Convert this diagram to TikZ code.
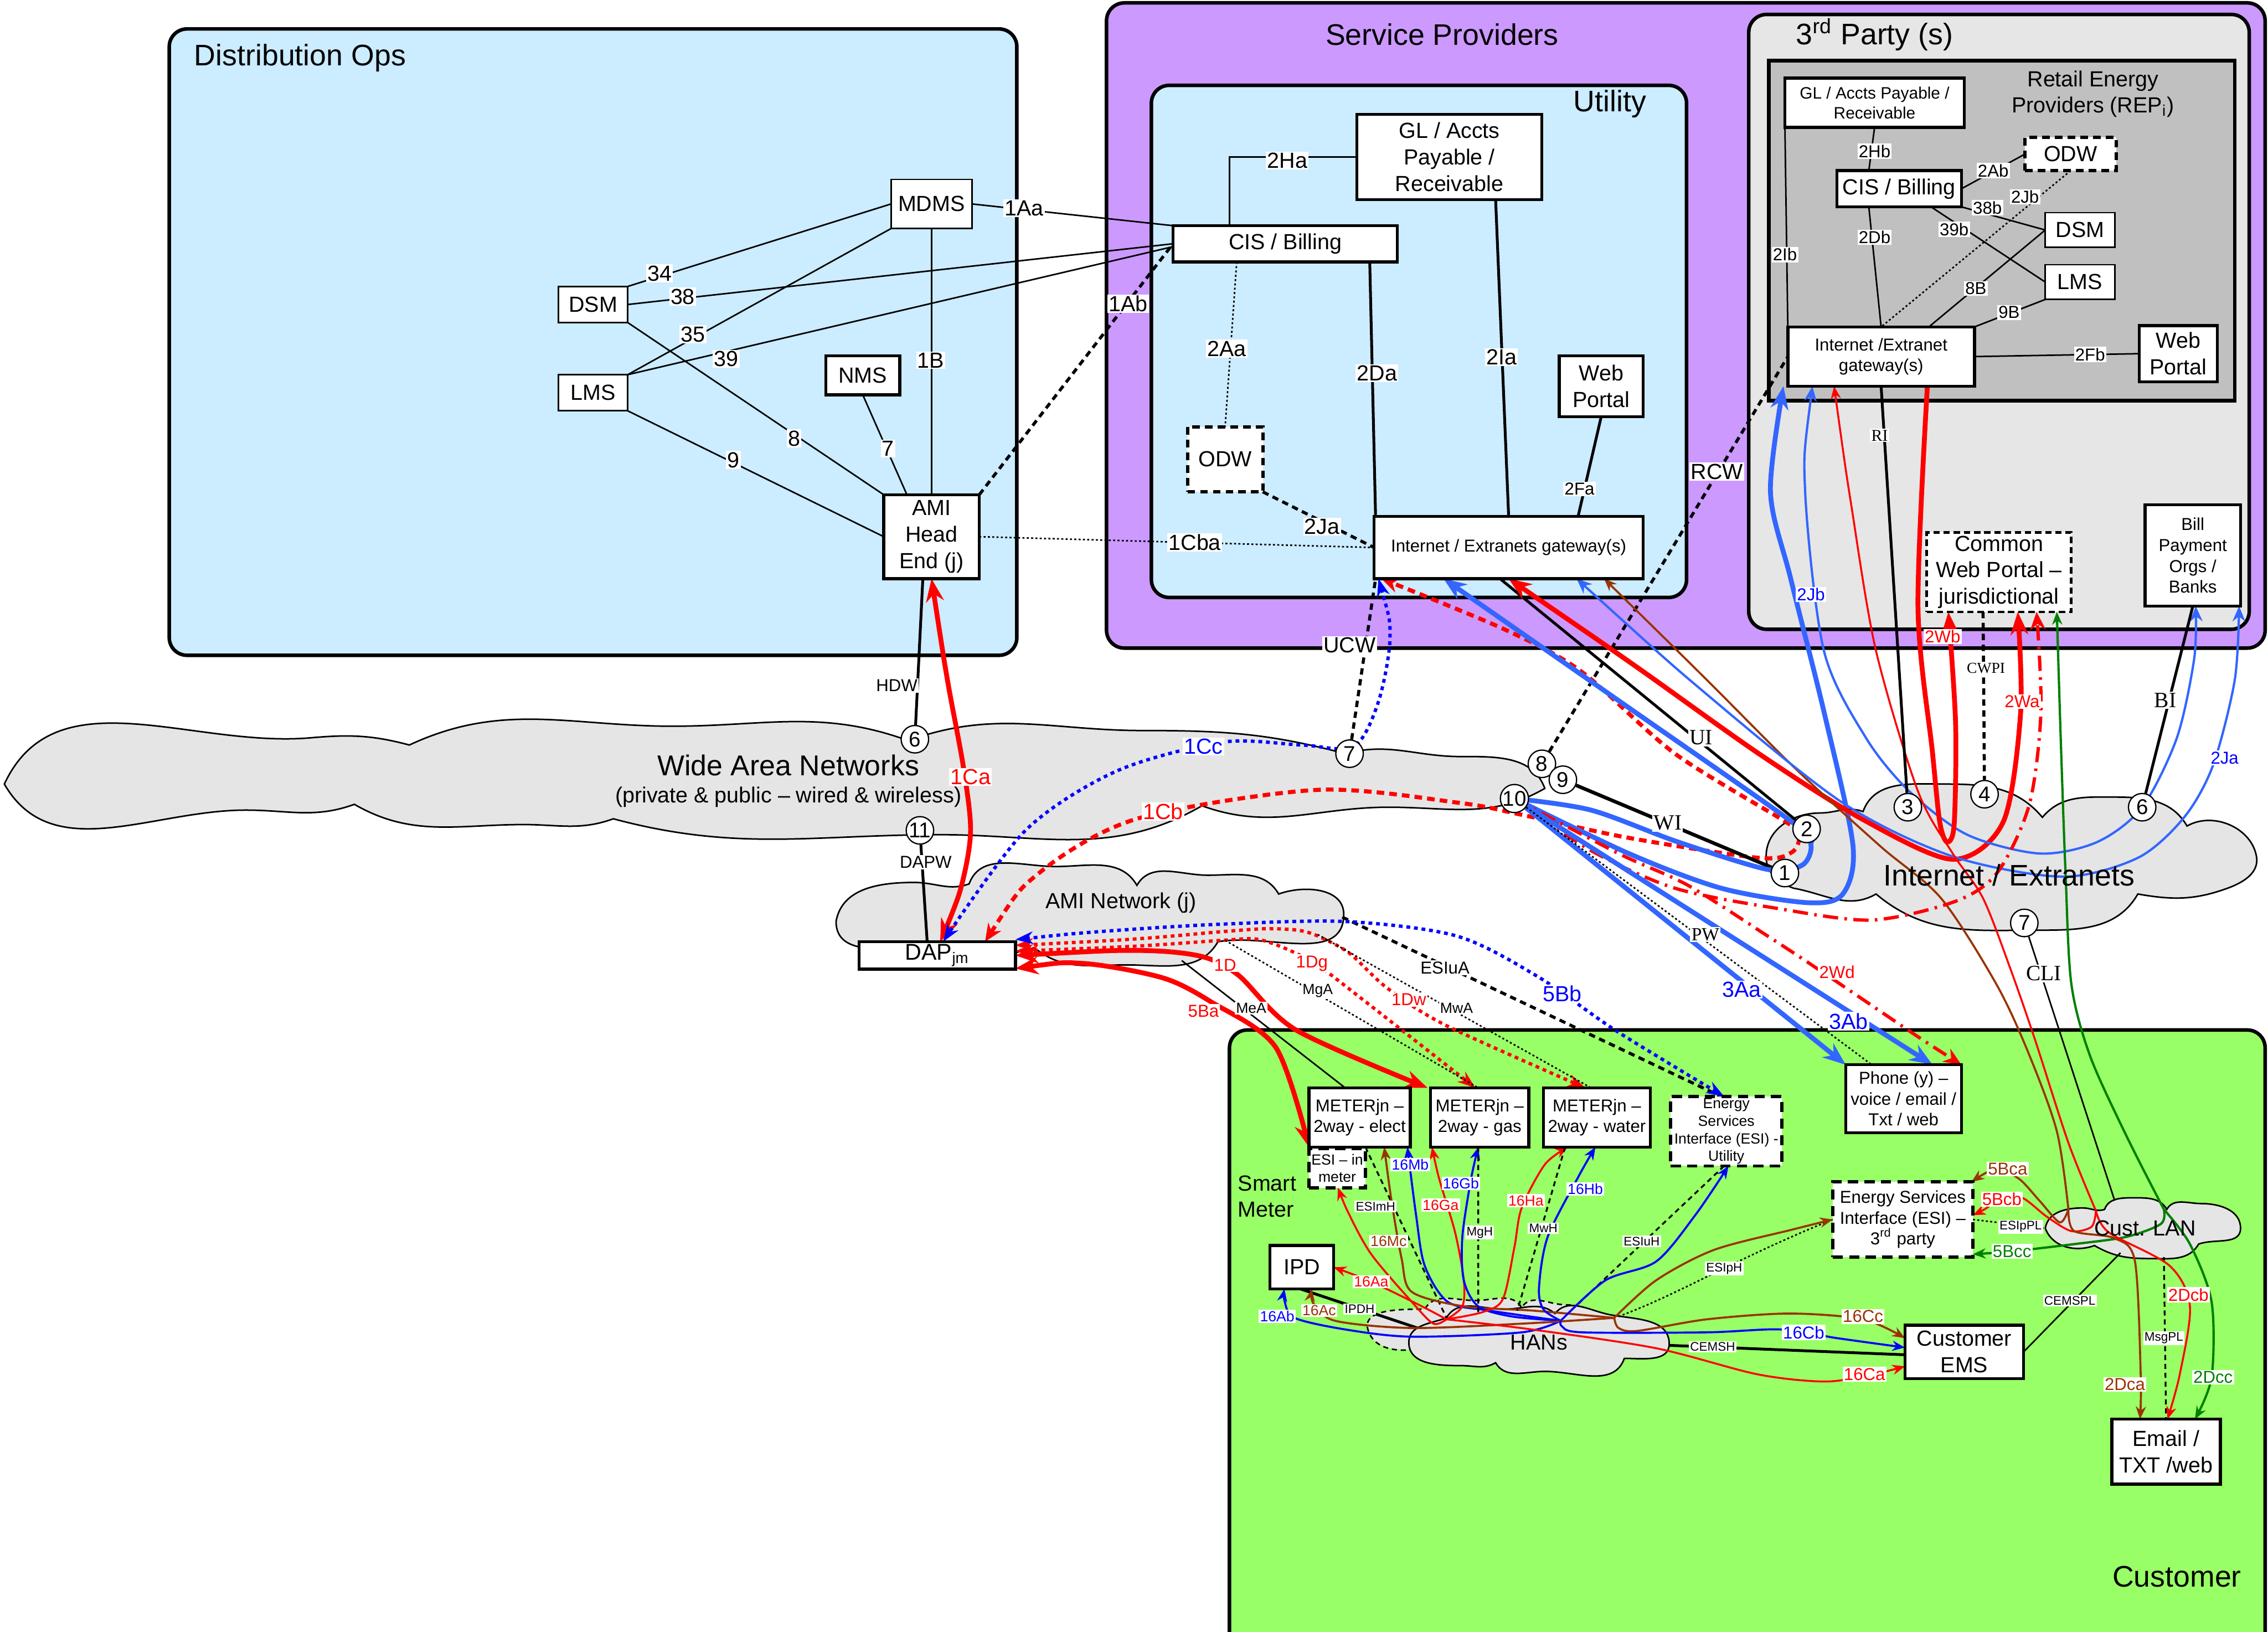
\documentclass[tikz,border=0pt]{standalone}
\usepackage{fontspec}
\setmainfont{Liberation Sans}
\newfontfamily\serf{Liberation Serif}
\usetikzlibrary{arrows.meta}
\definecolor{lblue}{HTML}{CCECFF}
\definecolor{purp}{HTML}{CC99FF}
\definecolor{lgray}{HTML}{E6E6E6}
\definecolor{mgray}{HTML}{C0C0C0}
\definecolor{cgreen}{HTML}{99FF66}
\definecolor{cloudg}{HTML}{E5E5E5}
\definecolor{rblue}{HTML}{3366FF}
\definecolor{pblue}{HTML}{0000FF}
\definecolor{brn}{HTML}{993300}
\definecolor{grn}{HTML}{008000}
\pgfdeclarelayer{back}\pgfdeclarelayer{mid}\pgfsetlayers{back,mid,main}
\newcommand\bx[7]{\node[#6,minimum width={(#4-#2)*0.02cm},minimum height={(#5-#3)*0.02cm}] (#1) at ({(#2+#4)/2},{(#3+#5)/2}) {#7};}
\tikzset{
 ftitle/.style={font=\fontsize{11.7}{14}\selectfont,inner sep=0pt},
 fbig/.style={font=\fontsize{8.6}{10.4}\selectfont},
 fmed/.style={font=\fontsize{6.8}{8.2}\selectfont},
 fsm/.style={font=\fontsize{5.8}{6.9}\selectfont},
 fxs/.style={font=\fontsize{4.9}{5.9}\selectfont},
 bxs/.style={draw,fill=white,line width=0.6pt,inner sep=0pt,outer sep=0pt,align=center,fbig},
 bxt/.style={bxs,line width=1.2pt},
 bxd/.style={bxs,line width=1.3pt,dash pattern=on 4pt off 2.5pt},
 region/.style={draw,line width=1.4pt,rounded corners=7pt,inner sep=0pt},
 lab/.style={fill=white,inner sep=0.5pt,fbig},
 lb/.style={lab,fmed},
 lsix/.style={lab,fsm},
 ls/.style={lab,fxs},
 sl/.style={fill=white,inner sep=0.5pt,font=\serf\fontsize{8.6}{9}\selectfont},
 sls/.style={fill=white,inner sep=0.5pt,font=\serf\fontsize{6.5}{7}\selectfont},
 circ/.style={circle,draw,fill=white,inner sep=0pt,minimum size=0.38cm,line width=0.5pt,font=\fontsize{8.4}{9}\selectfont},
 cloudst/.style={fill=cloudg,draw,line width=0.6pt},
 ln/.style={line width=0.6pt},
 tk/.style={line width=1.1pt},
 kdot/.style={line width=0.6pt,dash pattern=on 0.8pt off 0.9pt},
 kdash/.style={line width=1.2pt,dash pattern=on 2.5pt off 1.8pt},
 kdashs/.style={line width=0.7pt,dash pattern=on 2pt off 1.5pt},
 redT/.style={draw=red,line width=1.9pt,>={Stealth[length=9pt,width=7pt]}},
 bluT/.style={draw=rblue,line width=1.9pt,>={Stealth[length=9pt,width=7pt]}},
 redt/.style={draw=red,line width=0.75pt,>={Stealth[length=5pt,width=4pt]}},
 blut/.style={draw=rblue,line width=0.9pt,>={Stealth[length=6pt,width=5pt]}},
 pbl/.style={draw=pblue,line width=0.8pt,>={Stealth[length=5pt,width=4pt]}},
 brnl/.style={draw=brn,line width=0.8pt,>={Stealth[length=5pt,width=4pt]}},
 grnl/.style={draw=grn,line width=0.9pt,>={Stealth[length=5pt,width=4pt]}},
 rdash/.style={draw=red,line width=1.6pt,dash pattern=on 3pt off 2pt,>={Stealth[length=7pt,width=6pt]}},
 rdot/.style={draw=red,line width=1.3pt,dash pattern=on 1.5pt off 1.5pt,>={Stealth[length=7pt,width=5pt]}},
 bdot/.style={draw=pblue,line width=1.3pt,dash pattern=on 1.5pt off 1.5pt,>={Stealth[length=7pt,width=5pt]}},
 rdd/.style={draw=red,line width=1.3pt,dash pattern=on 6pt off 2.5pt on 1pt off 2.5pt,>={Stealth[length=7pt,width=6pt]}},
}
\begin{document}
\begin{tikzpicture}[x=0.02cm,y=-0.02cm]
\useasboundingbox (0,0) rectangle (1568,1128);

% ---------- background: regions and clouds ----------
\begin{pgfonlayer}{back}
\bx{distops}{117}{20}{703}{453}{region,fill=lblue}{}
\bx{sprov}{765}{2}{1566}{448}{region,fill=purp}{}
\bx{util}{796}{59}{1166}{413}{region,fill=lblue}{}
\bx{third}{1209}{10}{1555}{435}{region,fill=lgray}{}
\bx{rep}{1223}{42}{1545}{277}{draw,fill=mgray,line width=1.5pt}{}
\bx{cust}{850}{712}{1566}{1140}{region,fill=cgreen}{}
% Wide Area Networks cloud
\draw[cloudst] (3,542) to[out=65,in=185] (215,510) to[out=5,in=165] (283,515)
  to[out=25,in=180] (465,502) to[out=0,in=160] (628,512) to[out=20,in=180] (790,505)
  to[out=0,in=165] (930,521) to[out=15,in=180] (1010,523) to[out=0,in=110] (1068,545)
  to[out=-150,in=0] (960,558) to[out=180,in=-20] (831,557) to[out=-150,in=0] (650,577)
  to[out=180,in=-15] (424,566) to[out=-160,in=0] (362,570) to[out=180,in=-30] (245,556)
  to[out=-160,in=0] (170,560) to[out=180,in=-60] (3,542) -- cycle;
% AMI Network cloud
\draw[cloudst] (578,637) to[out=80,in=180] (632,610) to[out=0,in=200] (670,611)
  to[out=70,in=180] (730,599) to[out=0,in=120] (786,612)
  to[out=60,in=180] (835,605) to[out=0,in=120] (884,618)
  to[out=20,in=90] (929,632) to[out=-90,in=10] (842,651)
  to[out=-120,in=0] (779,667) to[out=180,in=-40] (715,655)
  to[out=200,in=0] (640,655) to[out=180,in=-90] (578,637) -- cycle;
% Internet / Extranets cloud
\draw[cloudst] (1240,614) to[out=160,in=-90] (1221,592) to[out=90,in=180] (1258,562)
  to[out=0,in=160] (1288,561) to[out=70,in=180] (1345,542) to[out=0,in=130] (1412,565)
  to[out=50,in=180] (1462,551) to[out=0,in=120] (1512,571) to[out=30,in=100] (1560,592)
  to[out=-80,in=20] (1540,614) to[out=200,in=-10] (1478,618) to[out=-120,in=0] (1410,643)
  to[out=180,in=-40] (1297,618) to[out=-150,in=-10] (1240,614) -- cycle;
% HANs clouds (dashed one behind)
\fill[cloudg] (974,933) to[out=180,in=-70] (946,920) to[out=110,in=180] (985,905)
  to[out=60,in=180] (1020,899) to[out=0,in=120] (1052,904) to[out=60,in=180] (1083,902)
  to[out=0,in=110] (1100,912) -- (1040,930) -- cycle;
\draw[line width=0.6pt,dash pattern=on 2pt off 1.5pt] (978,933) to[out=185,in=-70] (946,920) to[out=110,in=180] (985,905)
  to[out=60,in=180] (1020,899) to[out=0,in=120] (1052,904) to[out=60,in=180] (1083,902)
  to[out=0,in=110] (1100,912);
\draw[cloudst] (974,928) to[out=90,in=200] (1000,911) to[out=60,in=180] (1040,905)
  to[out=0,in=140] (1075,908) to[out=50,in=170] (1114,909) to[out=-10,in=90] (1154,929)
  to[out=-90,in=0] (1123,939) to[out=-110,in=0] (1068,948) to[out=180,in=-60] (1034,942)
  to[out=-150,in=0] (1010,944) to[out=180,in=-90] (974,928) -- cycle;
% Cust. LAN cloud
\draw[cloudst] (1414,849) to[out=80,in=180] (1440,835) to[out=0,in=200] (1455,836)
  to[out=70,in=180] (1476,828) to[out=0,in=120] (1498,836) to[out=60,in=180] (1522,832)
  to[out=0,in=90] (1549,849) to[out=-90,in=20] (1520,860) to[out=-120,in=0] (1486,870)
  to[out=180,in=-30] (1448,861) to[out=200,in=-70] (1414,849) -- cycle;
\end{pgfonlayer}

% ---------- titles ----------
\node[ftitle,anchor=west] (tdo) at (134,40) {Distribution Ops};
\node[ftitle] (tsp) at (997,24) {Service Providers};
\node[ftitle] (tut) at (1113,72) {Utility};
\node[ftitle] (t3p) at (1296,24) {3\textsuperscript{rd} Party (s)};
\node[fbig,align=center,inner sep=0pt] (trep) at (1447,65) {Retail Energy\\Providers (REP\textsubscript{i})};
\node[ftitle] (tcu) at (1505,1090) {Customer};
\node[fbig,align=left,inner sep=0pt] (tsm) at (876,827) {Smart\\Meter};
\node[font=\fontsize{11.3}{13}\selectfont,inner sep=0pt] (twan) at (545,529) {Wide Area Networks};
\node[fbig,inner sep=0pt] (twan2) at (545,551) {(private \& public – wired \& wireless)};
\node[fbig,inner sep=0pt] (tami) at (775,624) {AMI Network (j)};
\node[ftitle] (tinet) at (1389,605) {Internet / Extranets};
\node[fbig,inner sep=0pt] (than) at (1064,928) {HANs};
\node[fbig,inner sep=0pt] (tclan) at (1483,849) {Cust. LAN};

% ---------- boxes ----------
\bx{mdms}{616}{124}{672}{158}{bxs}{MDMS}
\bx{dsm}{386}{198}{434}{223}{bxs}{DSM}
\bx{lms}{386}{259}{434}{284}{bxs}{LMS}
\bx{nms}{571}{246}{622}{273}{bxt}{NMS}
\bx{ami}{611}{342}{677}{400}{bxt}{AMI\\Head\\End (j)}
\bx{gl}{938}{79}{1066}{138}{bxt}{GL / Accts\\Payable /\\Receivable}
\bx{cis}{811}{156}{966}{181}{bxt}{CIS / Billing}
\bx{odw}{821}{295}{873}{340}{bxd,dash pattern=on 3pt off 2pt}{ODW}
\bx{wp}{1078}{246}{1136}{288}{bxt}{Web\\Portal}
\bx{ugw}{950}{357}{1136}{400}{bxt,fmed}{Internet / Extranets gateway(s)}
\bx{rgl}{1234}{54}{1358}{88}{bxt,font=\fontsize{6.5}{7.8}\selectfont}{GL / Accts Payable /\\Receivable}
\bx{rcis}{1270}{118}{1356}{143}{bxt}{CIS / Billing}
\bx{rodw}{1400}{95}{1463}{118}{bxd,dash pattern=on 3pt off 2pt}{ODW}
\bx{rdsm}{1414}{147}{1462}{171}{bxs}{DSM}
\bx{rlms}{1414}{183}{1462}{207}{bxs}{LMS}
\bx{rwp}{1479}{225}{1533}{264}{bxt}{Web\\Portal}
\bx{rgw}{1236}{226}{1365}{267}{bxt,fmed}{Internet /Extranet\\gateway(s)}
\bx{cwp}{1332}{368}{1432}{423}{bxd,line width=1pt,dash pattern=on 2.5pt off 1.5pt}{Common\\Web Portal –\\jurisdictional}
\bx{bill}{1483}{349}{1549}{419}{bxt,fmed}{Bill\\Payment\\Orgs /\\Banks}
\bx{dap}{594}{651}{702}{670}{bxt,font=\fontsize{9}{10}\selectfont}{DAP\textsubscript{jm}}
\bx{me}{905}{752}{975}{793}{bxt,fmed}{METERjn –\\2way - elect}
\bx{mg}{989}{752}{1057}{793}{bxt,fmed}{METERjn –\\2way - gas}
\bx{mw}{1067}{752}{1141}{793}{bxt,fmed}{METERjn –\\2way - water}
\bx{esiu}{1155}{758}{1232}{806}{bxd,fsm}{Energy\\Services\\Interface (ESI) -\\Utility}
\bx{esim}{905}{794}{944}{821}{bxd,fsm}{ESI – in\\meter}
\bx{ipd}{878}{861}{922}{891}{bxt}{IPD}
\bx{phone}{1276}{736}{1356}{783}{bxt,fmed}{Phone (y) –\\voice / email /\\Txt / web}
\bx{esip}{1267}{817}{1364}{869}{bxd,fmed}{Energy Services\\Interface (ESI) –\\3\textsuperscript{rd} party}
\bx{ems}{1317}{916}{1399}{953}{bxt}{Customer\\EMS}
\bx{email}{1460}{981}{1535}{1026}{bxt}{Email /\\TXT /web}

% ---------- circles ----------
\foreach \n/\x/\y/\t in {w6/632.5/511/6,w7/933/521/7,w8/1066/528/8,w9/1080.5/539/9,w10/1047/552/10,w11/636/574/11,i1/1234/603.5/1,i2/1249/573/2,i3/1319/558/3,i4/1372/549/4,i6/1481/558/6,i7/1399.5/638/7}
  \node[circ] (\n) at (\x,\y) {\t};

% ---------- coordinates ----------
\coordinate (lbr) at (1430,836); \coordinate (lr) at (1449,837); \coordinate (lg) at (1496,836);
\coordinate (lcli) at (1462,830); \coordinate (lesip) at (1414,849); \coordinate (lcems) at (1466,866);
\coordinate (lmsg) at (1496,869);
\coordinate (amea) at (817,664); \coordinate (amga) at (847,650); \coordinate (amwa) at (911,646);
\coordinate (aesiua) at (928,634);
\coordinate (hr) at (1000,912); \coordinate (hb) at (1079,913); \coordinate (hbr) at (1116,911);
\coordinate (hmg) at (1022,907); \coordinate (hmw) at (1049,906); \coordinate (hesiu) at (1084,908);
\coordinate (hesip) at (1119,910); \coordinate (hipd) at (980,918); \coordinate (hcems) at (1154,930);
\coordinate (hesim) at (1000,911);

% ---------- connectors ----------
\begin{pgfonlayer}{mid}
% Distribution Ops
\draw[ln] (dsm.north east) -- (mdms.west);
\draw[ln] (dsm.east) -- (cis.west);
\draw[ln] (lms.north east) -- (mdms.south west);
\draw[ln] (lms.north east) -- ([yshift=-0.04cm]cis.west);
\draw[ln] (dsm.south east) -- (ami.north west);
\draw[ln] (lms.south east) -- (ami.west);
\draw[ln] (nms.south) -- ([xshift=0.32cm]ami.north west);
\draw[ln] (mdms.south) -- (ami.north);
\draw[ln] (mdms.east) -- (cis.north west);
\draw[kdash] (ami.north east) -- (cis.west);
\draw[kdot] (ami.east) -- (ugw.west);
% Utility
\draw[ln] ([xshift=0.78cm]cis.north west) |- (gl.west);
\draw[kdot] ([xshift=0.88cm]cis.south west) -- (odw.north);
\draw[tk] ([xshift=2.72cm]cis.south west) -- ([xshift=0.02cm]ugw.north west);
\draw[tk] ([xshift=0.64cm]gl.south) -- (ugw.north);
\draw[tk] (wp.south) -- ([xshift=-0.9cm]ugw.north east);
\draw[kdash] (odw.south east) -- (ugw.west);
% REP
\draw[ln] (rgl.south) -- ([xshift=-0.42cm]rcis.north);
\draw[ln] (rcis.east) -- (rodw.west);
\draw[ln] (rcis.south east) -- (rdsm.west);
\draw[ln] ([xshift=-0.42cm]rcis.south east) -- (rlms.west);
\draw[kdot] (rodw.south) -- (rgw.north);
\draw[ln] ([xshift=-0.42cm]rcis.south) -- (rgw.north);
\draw[ln] (rgl.south west) -- (rgw.north west);
\draw[ln] (rdsm.west) -- ([xshift=0.66cm]rgw.north);
\draw[ln] (rlms.south west) -- (rgw.north east);
\draw[ln] (rgw.east) -- (rwp.west);
% WAN level
\draw[tk] ([xshift=-0.12cm]ami.south) -- (w6);
\draw[redT,<->] plot[smooth] coordinates {(ami.south) (655,470) (666,530) (671,575) (664,615) ([xshift=0.04cm]dap.north)};
\draw[tk] (w11) -- ([xshift=-0.14cm]dap.north);
\draw[bdot,<->] plot[smooth] coordinates {([xshift=0.06cm]ugw.south west) (961,440) (953,485) (936,516) (900,515) (845,513) (772,533) (709,574) ([xshift=0.08cm]dap.north)};
\draw[kdash] (w7) -- ([xshift=0.02cm]ugw.south west);
\draw[rdash,<->] plot[smooth] coordinates {([xshift=0.66cm]dap.north) (719,603) (786,566) (911,546) (1009,555) (1051,563) (1125,579) (1216,593) (1239,589) (1244,577) (1236,569) (1158,521) (1093,464) (1040,435) ([xshift=0.1cm]ugw.south west)};
% Internet level
\draw[kdash] (w8) -- (rgw.west);
\draw[line width=1.4pt] (w9) -- (i1);
\draw[tk] ([xshift=1.74cm]ugw.south west) -- (i2);
\draw[bluT,->] plot[smooth] coordinates {(w10) (1100,560) (1160,582) (1222,601) (1246,598) (1252,584) (1240,569) (1120,485) ([xshift=0.96cm]ugw.south west)};
\draw[bluT,->] plot[smooth] coordinates {(w10) (1126,590) (1190,614) (1250,624) (1274,618) (1281,584) (1261,492) (1238,400) (1224,340) ([xshift=-0.06cm]rgw.south west)};
\draw[redT,<->] plot[smooth] coordinates {([xshift=1.86cm]ugw.south west) (1130,460) (1216,521) (1287,566) (1350,594) (1385,568) (1397,492) ([xshift=1.26cm]cwp.south west)};
\draw[brnl,<-] plot[smooth] coordinates {([xshift=3.18cm]ugw.south west) (1180,470) (1242,532) (1300,585) (1342,621) (1380,680) (1402,727) (1422,782) (lbr)};
\draw[blut,<->] plot[smooth] coordinates {([xshift=2.8cm]ugw.south west) (1180,480) (1274,555) (1350,592) (1426,606) (1478,593) (1510,565) (1530,529) (1545,470) ([xshift=-0.02cm]bill.south east)};
\draw[blut,<->] plot[smooth] coordinates {([xshift=0.34cm]rgw.south west) (1248,340) (1261,450) (1290,510) (1320,547) (1360,577) (1410,590) (1450,582) (1481,558) (1505,510) (1517,455) ([xshift=0.04cm]bill.south)};
\draw[redt,<-] plot[smooth] coordinates {([xshift=0.64cm]rgw.south west) (1280,350) (1297,450) (1326,547) (1350,590) (1371,621) (1390,670) (1407,719) (1430,790) (lr)};
\draw[redT,->] plot[smooth] coordinates {([xshift=1.93cm]rgw.south west) (1326,420) (1336,520) (1341,568) (1346,582) (1351,570) (1352,500) ([xshift=0.3cm]cwp.south west)};
\draw[tk] (rgw.south) -- (i3);
\draw[kdash] ([xshift=0.78cm]cwp.south west) -- (i4);
\draw[tk] (bill.south) -- (i6);
\draw[grnl,<-] plot[smooth] coordinates {([xshift=1.8cm]cwp.south west) (1425,520) (1428,603) (1432,680) (1445,730) (1470,785) (lg)};
\draw[rdd,->] plot[smooth] coordinates {(w10) (1100,588) (1158,614) (1229,628) (1294,636) (1352,623) (1381,603) (1403,556) (1411,492) ([xshift=1.52cm]cwp.south west)};
\draw[rdd,->] plot[smooth] coordinates {(w10) (1119,590) (1167,612) (1222,647) (1260,672) (1325,716) (phone.north east)};
\draw[bluT,->] (w10) -- (phone.north west);
\draw[bluT,->] (w10) -- ([xshift=1.2cm]phone.north west);
\draw[kdot] (w10) -- ([xshift=0.36cm]phone.north west);
\draw[ln] (i7) -- (lcli);
% AMI level
\draw[redT,<->] plot[smooth] coordinates {(dap.east) (786,657) (830,661) (856,674) (896,712) ([xshift=1.64cm]me.north west)};
\draw[redT,<->] plot[smooth] coordinates {([yshift=-0.18cm]dap.east) (749,666) (804,676) (838,693) (882,724) (me.south west)};
\draw[rdot,<->] plot[smooth] coordinates {([yshift=0.06cm]dap.east) (786,654) (845,650) (867,649) (882,653) (900,661) (919,673) ([xshift=0.62cm]mg.north west)};
\draw[rdot,<->] plot[smooth] coordinates {([yshift=0.14cm]dap.east) (786,649) (845,644) (875,642) (897,643) (911,647) (933,659) (959,683) (1000,709) ([xshift=0.58cm]mw.north west)};
\draw[ln] (amea) -- ([xshift=0.5cm]me.north west);
\draw[kdot] (amga) -- ([xshift=0.66cm]mg.north west);
\draw[kdot] (amwa) -- ([xshift=0.66cm]mw.north west);
\draw[kdash] (aesiua) -- ([xshift=0.7cm]esiu.north west);
\draw[bdot,<->] plot[smooth] coordinates {([yshift=0.22cm]dap.east) (760,644) (841,639) (930,637) (1007,647) (1063,675) (1118,713) ([xshift=0.74cm]esiu.north west)};
% HAN
\draw[kdashs] ([xshift=0.78cm]me.south west) -- (hesim);
\draw[pbl,->] plot[smooth] coordinates {(hb) (1030,906) (1001,900) (985,875) (979,840) ([xshift=-0.04cm]me.south east)};
\draw[brnl,->] plot[smooth] coordinates {(hbr) (1060,906) (1012,903) (976,893) (969,870) (962,830) ([xshift=1.04cm]me.south west)};
\draw[redt,->] plot[smooth] coordinates {(hr) (983,903) (948,886) (ipd.east)};
\draw[redt,->] plot[smooth] coordinates {(hr) (991,915) (977,901) (948,867) (932,838) ([xshift=0.4cm]esim.south west)};
\draw[redt,->] plot[smooth] coordinates {(hr) (1011,903) (1012,885) (1006,852) (995,815) ([xshift=0.02cm]mg.south west)};
\draw[pbl,->] plot[smooth] coordinates {(hb) (1045,910) (1022,903) (1012,885) (1011,855) (1017,815) ([xshift=0.66cm]mg.south west)};
\draw[kdashs] ([xshift=0.66cm]mg.south west) -- (hmg);
\draw[redt,->] plot[smooth] coordinates {(hr) (1025,907) (1039,898) (1047,862) (1052,835) (1068,805) ([xshift=0.34cm]mw.south west)};
\draw[kdashs] ([xshift=0.3cm]mw.south west) -- (hmw);
\draw[pbl,->] plot[smooth] coordinates {(hb) (1067,905) (1064,890) (1070,855) (1092,812) ([xshift=0.72cm]mw.south west)};
\draw[kdashs] ([xshift=0.74cm]esiu.south west) -- (hesiu);
\draw[pbl,->] plot[smooth] coordinates {(hb) (1110,885) (1145,872) (1172,840) ([xshift=0.8cm]esiu.south west)};
\draw[kdot] (hesip) .. controls (1160,895) and (1200,870) .. (esip.west);
\draw[brnl,->] plot[smooth] coordinates {(hbr) (1145,885) (1185,864) (1239,850) (esip.west)};
\draw[tk] ([xshift=0.42cm]ipd.south west) -- (hipd);
\draw[pbl,->] plot[smooth] coordinates {(hb) (1052,921) (976,924) (930,919) (895,911) (888,899) ([xshift=0.2cm]ipd.south west)};
\draw[brnl,->] plot[smooth] coordinates {(hbr) (1052,915) (976,918) (923,913) (908,901) ([xshift=0.58cm]ipd.south west)};
\draw[brnl,->] plot[smooth] coordinates {(hbr) (1119,918) (1132,920) (1180,912) (1237,908) (1288,912) ([yshift=-0.18cm]ems.north west)};
\draw[pbl,->] plot[smooth] coordinates {(hb) (1080,917) (1094,921) (1180,921) (1231,919) (1270,925) ([yshift=0.06cm]ems.west)};
\draw[tk] (hcems) -- ([yshift=-0.04cm]ems.west);
\draw[redt,->] plot[smooth] coordinates {(hr) (1059,919) (1145,932) (1215,950) (1262,955) (1295,950) ([yshift=-0.2cm]ems.west)};
% Cust LAN
\draw[brnl,->] plot[smooth] coordinates {(lbr) (1424,845) (1410,830) (1396,815) (1380,808) ([xshift=-0.02cm]esip.north east)};
\draw[redt,->] plot[smooth] coordinates {(lr) (1446,848) (1432,851) (1415,841) (1398,828) (1383,829) (1372,836) ([yshift=0.06cm]esip.east)};
\draw[grnl,->] plot[smooth] coordinates {(lg) (1494,846) (1470,855) (1434,860) (1391,865) ([yshift=0.04cm]esip.south east)};
\draw[kdot] (esip.east) -- (lesip);
\draw[ln] (ems.east) -- (lcems);
\draw[kdashs] (lmsg) -- (email.north);
\draw[brnl,->] plot[smooth] coordinates {(lbr) (1434,851) (1462,856) (1476,872) (1480,951) ([xshift=-0.36cm]email.north)};
\draw[redt,->] plot[smooth] coordinates {(lr) (1458,852) (1500,875) (1514,903) (1507,950) ([xshift=0.02cm]email.north)};
\draw[grnl,->] plot[smooth] coordinates {(lg) (1514,860) (1529,900) (1529,952) ([xshift=0.4cm]email.north)};
\end{pgfonlayer}

% ---------- connector labels ----------
\node[lab] (l34) at (456,189) {34};
\node[lab] (l38) at (472,205) {38};
\node[lab] (l35) at (479,231) {35};
\node[lab] (l39) at (502,248) {39};
\node[lab] (l8) at (549,303) {8};
\node[lab] (l9) at (507,318) {9};
\node[lab] (l7) at (614,310) {7};
\node[lab] (l1B) at (643.5,249) {1B};
\node[lab] (l1Aa) at (708,144) {1Aa};
\node[lab] (l2Ha) at (890,111) {2Ha};
\node[lab] (l2Aa) at (848,241) {2Aa};
\node[lab] (l2Da) at (952,258) {2Da};
\node[lab] (l2Ia) at (1038,247) {2Ia};
\node[lb] (l2Fa) at (1092,338) {2Fa};
\node[lab] (l2Ja) at (914,364) {2Ja};
\node[lab] (l1Cba) at (826,375) {1Cba};
\node[lab] (l1Ab) at (780,210) {1Ab};
\node[lb] (l2Hb) at (1296,104.5) {2Hb};
\node[lb] (l2Ab) at (1378,118) {2Ab};
\node[lb] (l38b) at (1374,143.5) {38b};
\node[lb] (l39b) at (1351,158.5) {39b};
\node[lb] (l2Jbr) at (1400,136) {2Jb};
\node[lb] (l2Db) at (1296,164) {2Db};
\node[lb] (l2Ib) at (1234,176) {2Ib};
\node[lb] (l8B) at (1366,199.5) {8B};
\node[lb] (l9B) at (1389,216) {9B};
\node[lb] (l2Fb) at (1445,245) {2Fb};
\node[lb] (lHDW) at (620,474) {HDW};
\node[lab,text=red] (l1Ca) at (671,537) {1Ca};
\node[lb] (lDAPW) at (640,596) {DAPW};
\node[lab,text=pblue] (l1Cc) at (832,516) {1Cc};
\node[lab] (lUCW) at (933,446) {UCW};
\node[lab,text=red] (l1Cb) at (804,561) {1Cb};
\node[lab] (lRCW) at (1187,326) {RCW};
\node[sl] (lUI) at (1176,510) {UI};
\node[sl] (lWI) at (1153,569) {WI};
\node[sls] (lRI) at (1299.5,301) {RI};
\node[sls,font=\serf\fontsize{6}{7}\selectfont] (lCWPI) at (1373,462) {CWPI};
\node[sl] (lBI) at (1497,484) {BI};
\node[lb,text=red] (l2Wa) at (1398,485) {2Wa};
\node[lb,text=red] (l2Wb) at (1343,440) {2Wb};
\node[lb,text=pblue] (l2Jb) at (1252,411) {2Jb};
\node[lb,text=pblue] (l2Jau) at (1538,524) {2Ja};
\node[sl] (lCLI) at (1413,673) {CLI};
\node[sls,font=\serf\fontsize{7.3}{8}\selectfont] (lPW) at (1179,646) {PW};
\node[lab,text=pblue] (l3Aa) at (1204,684) {3Aa};
\node[lab,text=pblue] (l3Ab) at (1278,706) {3Ab};
\node[lb,text=red] (l2Wd) at (1270,672) {2Wd};
\node[lb,text=red] (l1D) at (847,667) {1D};
\node[lb,text=red] (l1Dg) at (907,666) {1Dg};
\node[lb,text=red] (l1Dw) at (974,691) {1Dw};
\node[lb,text=red] (l5Ba) at (832,699) {5Ba};
\node[lsix] (lMeA) at (865,697) {MeA};
\node[lsix] (lMgA) at (911,685) {MgA};
\node[lsix] (lMwA) at (1007,697) {MwA};
\node[lb] (lESIuA) at (999,669) {ESIuA};
\node[lab,text=pblue] (l5Bb) at (1080,687) {5Bb};
\node[ls] (lESImH) at (951,834) {ESImH};
\node[lsix,text=pblue] (l16Mb) at (975,805) {16Mb};
\node[lsix,text=pblue] (l16Gb) at (1010,818) {16Gb};
\node[lsix,text=red] (l16Ga) at (996,833) {16Ga};
\node[lsix,text=brn] (l16Mc) at (960,858) {16Mc};
\node[ls] (lMgH) at (1023,852) {MgH};
\node[lsix,text=red] (l16Ha) at (1055,830) {16Ha};
\node[ls] (lMwH) at (1067,849) {MwH};
\node[lsix,text=pblue] (l16Hb) at (1096,822) {16Hb};
\node[ls] (lESIuH) at (1135,858) {ESIuH};
\node[ls] (lESIpH) at (1192,877) {ESIpH};
\node[lsix,text=red] (l16Aa) at (948,886) {16Aa};
\node[lsix,text=brn] (l16Ac) at (912,906) {16Ac};
\node[ls] (lIPDH) at (940,905) {IPDH};
\node[lsix,text=pblue] (l16Ab) at (883,910) {16Ab};
\node[lb,text=brn] (l16Cc) at (1288,910) {16Cc};
\node[lb,text=pblue] (l16Cb) at (1247,921) {16Cb};
\node[ls] (lCEMSH) at (1184,931) {CEMSH};
\node[lb,text=red] (l16Ca) at (1289,950) {16Ca};
\node[lb,text=brn] (l5Bca) at (1388,808) {5Bca};
\node[lb,text=red] (l5Bcb) at (1384,829) {5Bcb};
\node[ls] (lESIpPL) at (1397,848) {ESIpPL};
\node[lb,text=grn] (l5Bcc) at (1391,865) {5Bcc};
\node[ls] (lCEMSPL) at (1431,899) {CEMSPL};
\node[ls] (lMsgPL) at (1496,925) {MsgPL};
\node[lb,text=brn] (l2Dca) at (1469,957) {2Dca};
\node[lb,text=red] (l2Dcb) at (1513,895) {2Dcb};
\node[lb,text=grn] (l2Dcc) at (1530,952) {2Dcc};
\end{tikzpicture}
\end{document}
